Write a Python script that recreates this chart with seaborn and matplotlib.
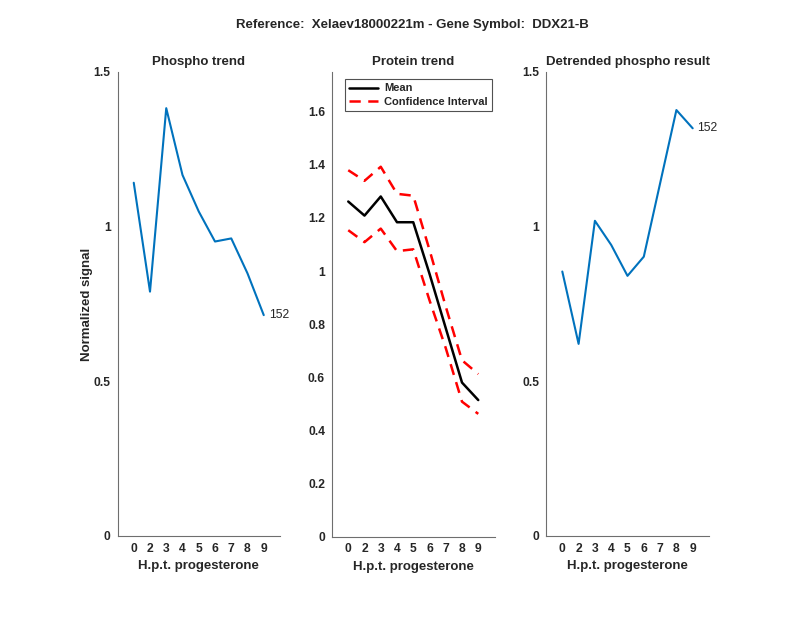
import numpy as np
import pandas as pd
import matplotlib
matplotlib.use('Agg')
import matplotlib.pyplot as plt
import seaborn as sns

# datos
horas = ['0', '2', '3', '4', '5', '6', '7', '8', '9']
phospho = [1.142, 0.790, 1.383, 1.167, 1.049, 0.952, 0.962, 0.849, 0.714]
protein_mean = [1.262, 1.209, 1.281, 1.184, 1.184, 0.990, 0.785, 0.580, 0.514]
protein_upper = [1.380, 1.340, 1.393, 1.291, 1.284, 1.080, 0.866, 0.664, 0.612]
protein_lower = [1.154, 1.109, 1.160, 1.075, 1.082, 0.890, 0.710, 0.508, 0.462]
detrended = [0.855, 0.621, 1.019, 0.941, 0.841, 0.903, 1.140, 1.377, 1.318]
etiqueta = '152'

sns.set_style('white')
plt.rcParams['font.family'] = ['Liberation Sans', 'DejaVu Sans']

azul = '#0072BD'
gris = '#6e6e6e'
texto = '#262626'
fs_tick = 8.7
fs_lab = 9.5

fig = plt.figure(figsize=(8, 6.18), dpi=100)
W, H = 800, 618


def caja(x0, x1, y0, y1):
    return [x0 / W, 1 - y1 / H, (x1 - x0) / W, (y1 - y0) / H]


def estilo(ax, ymax, yticks, yticklabels, titulo):
    ax.set_xlim(-1, 9)
    ax.set_ylim(0, ymax)
    ax.set_yticks(yticks)
    ax.set_yticklabels(yticklabels)
    sns.despine(ax=ax)
    for s in ['left', 'bottom']:
        ax.spines[s].set_color(gris)
        ax.spines[s].set_linewidth(0.8)
    ax.tick_params(direction='in', length=4, width=0.8, color=gris,
                   labelsize=fs_tick, labelcolor=texto, pad=5)
    for lab in ax.get_xticklabels() + ax.get_yticklabels():
        lab.set_fontweight('bold')
    ax.set_title(titulo, fontsize=fs_lab, fontweight='bold', pad=5)
    ax.set_xlabel('H.p.t. progesterone', fontsize=fs_lab, fontweight='bold', color=texto, labelpad=4)
    ax.set_ylabel('')


df = pd.DataFrame({'hora': horas, 'phospho': phospho, 'mean': protein_mean,
                   'upper': protein_upper, 'lower': protein_lower, 'detr': detrended})

# panel 1
ax1 = fig.add_axes(caja(117.5, 280, 72, 536))
sns.lineplot(data=df, x='hora', y='phospho', ax=ax1, color=azul, linewidth=1.5, sort=False)
ax1.text(len(horas) - 1 + 0.3, phospho[-1], etiqueta, fontsize=fs_tick, va='center', ha='left')
estilo(ax1, 1.5, [0, 0.5, 1, 1.5], ['0', '0.5', '1', '1.5'], 'Phospho trend')
ax1.set_ylabel('Normalized signal', fontsize=fs_lab, fontweight='bold', color=texto)
ax1.yaxis.set_label_coords(-0.15, 0.5)

# panel 2
ax2 = fig.add_axes(caja(332, 494.5, 72, 536.5))
sns.lineplot(data=df, x='hora', y='mean', ax=ax2, color='black', linewidth=1.8,
             sort=False, label='Mean')
sns.lineplot(data=df, x='hora', y='upper', ax=ax2, color='red', linewidth=1.8,
             linestyle=(0, (4.5, 3)), sort=False, label='Confidence Interval')
sns.lineplot(data=df, x='hora', y='lower', ax=ax2, color='red', linewidth=1.8,
             linestyle=(0, (4.5, 3)), sort=False)
yt = [0, 0.2, 0.4, 0.6, 0.8, 1.0, 1.2, 1.4, 1.6]
estilo(ax2, 1.75, yt, ['0', '0.2', '0.4', '0.6', '0.8', '1', '1.2', '1.4', '1.6'], 'Protein trend')
leg = ax2.legend(loc='upper left', bbox_to_anchor=(0.08, 0.985), fontsize=8,
                 frameon=True, fancybox=False, handlelength=2.6, borderpad=0.4,
                 labelspacing=0.3, handletextpad=0.5, borderaxespad=0)
leg.get_frame().set_edgecolor(texto)
leg.get_frame().set_linewidth(0.8)
for t in leg.get_texts():
    t.set_fontweight('bold')

# panel 3
ax3 = fig.add_axes(caja(546, 709, 72, 536))
sns.lineplot(data=df, x='hora', y='detr', ax=ax3, color=azul, linewidth=1.5, sort=False)
ax3.text(len(horas) - 1 + 0.3, detrended[-1], etiqueta, fontsize=fs_tick, va='center', ha='left')
estilo(ax3, 1.5, [0, 0.5, 1, 1.5], ['0', '0.5', '1', '1.5'], 'Detrended phospho result')

fig.text(412 / W, 1 - 25 / H, 'Reference:  Xelaev18000221m - Gene Symbol:  DDX21-B',
         ha='center', va='center', fontsize=fs_lab, fontweight='bold')

fig.savefig('out.png', dpi=100)
